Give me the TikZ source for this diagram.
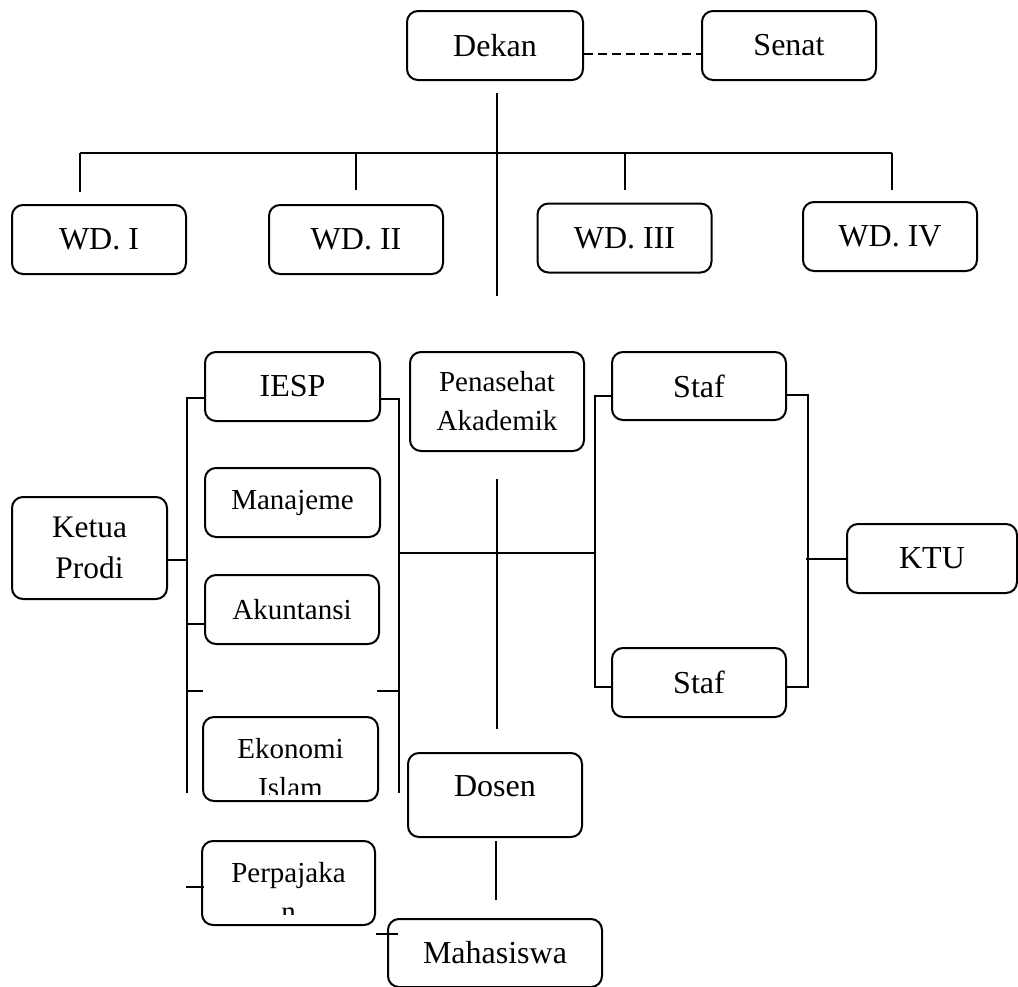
\documentclass[tikz,border=0pt]{standalone}
\usepackage{fontspec}
\setmainfont{Liberation Serif}
\usepackage{tikz}

\begin{document}
\begin{tikzpicture}[
    x=0.5pt, y=-0.5pt,
    box/.style={draw, rounded corners=5.5pt, line width=1pt, align=center, inner sep=0pt, minimum width=87pt, minimum height=34.5pt, font=\fontsize{16}{20.5}\selectfont},
    small/.style={font=\fontsize{14.5}{19.5}\selectfont},
    conn/.style={line width=1pt}
]
\useasboundingbox (0,0) rectangle (1018,986);

\node[box, minimum width=88pt] (dekan) at (495,45.5) {Dekan};
\node[box] (senat) at (789,45.5) {Senat};
\draw[conn, dash pattern=on 4.5pt off 2.5pt] ([yshift=-4.25pt]dekan.east) -- ([yshift=-4.25pt]senat.west);

\node[box] (wd1) at (99,239.5) {WD. I};
\node[box] (wd2) at (356,239.5) {WD. II};
\node[box] (wd3) at (624.5,238) {WD. III};
\node[box] (wd4) at (890,236.5) {WD. IV};

\coordinate (barL) at (80,153);
\coordinate (barR) at (892,153);
\coordinate (spine) at (497,296);
\draw[conn] (spine) -- ++(0pt,101.5pt);
\draw[conn] (barL) -- (barR);
\draw[conn] (barL) -- ++(0pt,-19.5pt);
\draw[conn] (barL -| wd2.north) -- ([yshift=7pt]wd2.north);
\draw[conn] (barL -| wd3.north) -- ([yshift=6.5pt]wd3.north);
\draw[conn] (barR) -- ++(0pt,-18.5pt);

\node[box, minimum width=77.5pt, minimum height=51pt, font=\fontsize{15.7}{20.5}\selectfont] (ketua) at (89.5,548) {Ketua\\Prodi};
\node[box, minimum width=87.5pt] (iesp) at (292.5,386.5) {IESP};
\node[box, small, minimum width=87.5pt] (manaj) at (292.5,502.5) {Manajeme};
\node[box, small] (akun) at (292,609.5) {Akuntansi};
\node[box, minimum width=87.5pt, minimum height=42pt] (eko) at (290.5,759) {};
\begin{scope}
  \clip (eko.north west) rectangle ([yshift=4pt]eko.south east);
  \node[small, align=center] (ekoText) at (290.5,768) {Ekonomi\\Islam};
\end{scope}
\node[box, minimum width=86.5pt, minimum height=42pt] (pajak) at (288.5,883) {};
\begin{scope}
  \clip (pajak.north west) rectangle ([yshift=6pt]pajak.south east);
  \node[small, align=center] (pajakText) at (288.5,891.5) {Perpajaka\\n};
\end{scope}

\node[box, small, minimum height=49.5pt] (pa) at (497,401.5) {Penasehat\\Akademik};
\node[box, minimum height=42pt, text depth=8.5pt] (dosen) at (495,795) {Dosen};
\node[box, minimum width=107pt, minimum height=34pt] (mhs) at (495,953) {Mahasiswa};

\node[box, minimum height=34pt] (stafA) at (699,386) {Staf};
\node[box] (stafB) at (699,682.5) {Staf};
\node[box, minimum width=85pt] (ktu) at (932,558.5) {KTU};

\coordinate (lb) at (187,793);
\coordinate (rb) at (399,793);
\coordinate (tickL) at (186,691);
\coordinate (tickR) at (398,691);
\coordinate (hubL) at (399,553);
\coordinate (hubR) at (595,553);

\draw[conn] ([yshift=-5.75pt]iesp.west) -| (lb);
\draw[conn] ([yshift=-6.25pt]iesp.east) -| (rb);
\draw[conn] ([yshift=-5.75pt]ketua.east) -- ++(10pt,0pt);
\draw[conn] ([yshift=-7pt]akun.west) -- ++(-9pt,0pt);
\draw[conn] (tickL) -- ++(8.5pt,0pt);
\draw[conn] (tickR) -- ++(-10.5pt,0pt);
\draw[conn] ([xshift=-7.5pt,yshift=-2pt]pajak.west) -- ++(9pt,0pt);

\draw[conn] (hubL) -- (hubR);
\draw[conn] ([yshift=-13.5pt]pa.south) -- ++(0pt,-125pt);
\draw[conn] ([xshift=0.5pt,yshift=-1.5pt]dosen.south) -- ++(0pt,-29.5pt);
\draw[conn] ([xshift=-5.5pt,yshift=9.5pt]mhs.west) -- ++(11pt,0pt);

\draw[conn] ([yshift=-5pt]stafA.west) -| (hubR) |- ([yshift=-2.25pt]stafB.west);
\draw[conn] ([yshift=-4.5pt]stafA.east) -- ++(10.5pt,0pt) |- ([yshift=-2pt]stafB.east);
\draw[conn] (ktu.west) -- ++(-20pt,0pt);
\end{tikzpicture}
\end{document}
